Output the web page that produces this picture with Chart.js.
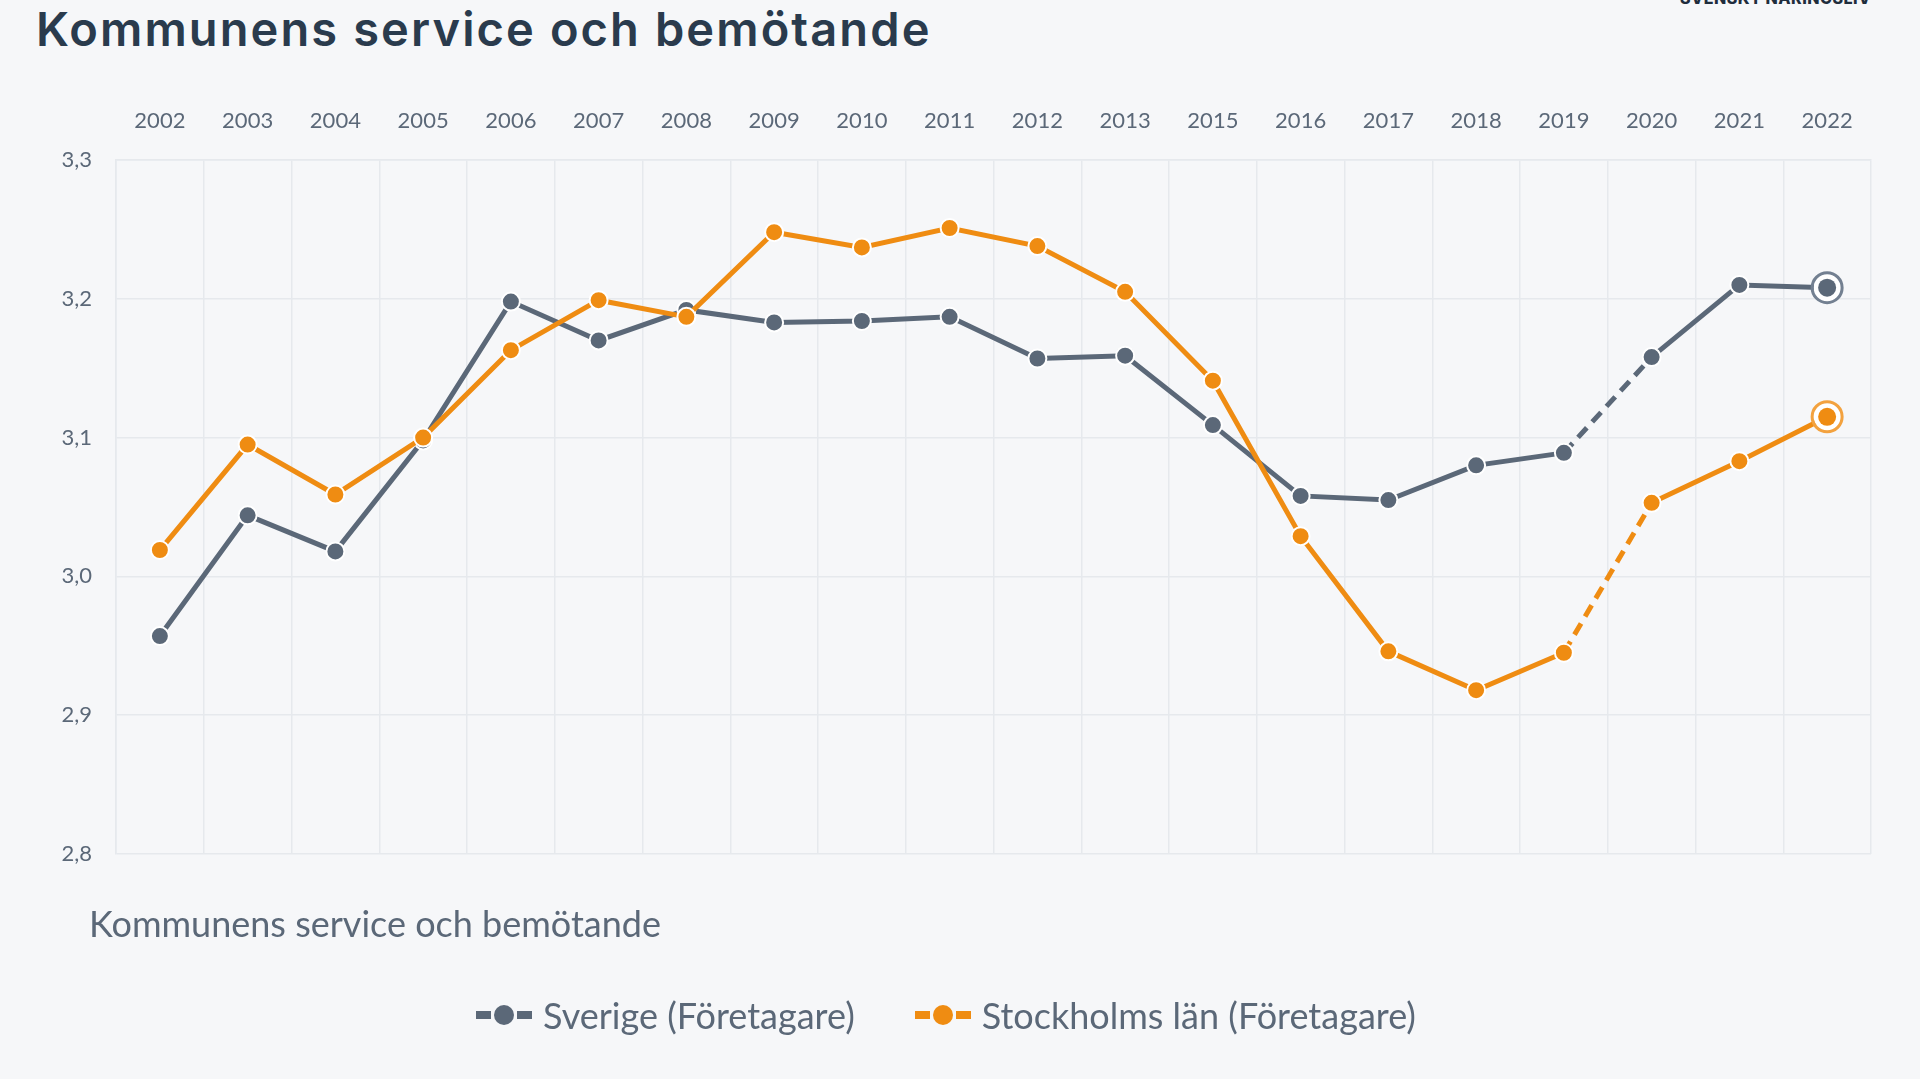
<!DOCTYPE html>
<html lang="sv">
<head>
<meta charset="utf-8">
<title>Kommunens service och bemötande</title>
<script src="https://cdn.jsdelivr.net/npm/chart.js@4.4.1/dist/chart.umd.min.js"></script>
<style>
  html, body { margin: 0; padding: 0; width: 1920px; height: 1079px; overflow: hidden; background: #f6f7f9; }
  #avsandare { position: absolute; right: 49px; top: -12px; font: 800 16px Inter, sans-serif; letter-spacing: 0.5px; color: #1f2d3d; }
  #rubrik { position: absolute; left: 36px; top: 0px; margin: 0; font: 600 47px Inter, sans-serif; color: #2a3b4d; letter-spacing: 2.1px; }
  #ram { position: absolute; left: 0; top: 0; width: 1920px; height: 1079px; }
  #undertext { position: absolute; left: 89px; top: 901px; font: 36px Lato, sans-serif; color: #5b6878; }
  #forklaring { position: absolute; left: 0; width: 1892px; top: 993px; display: flex; justify-content: center; gap: 60px; font: 36px Lato, sans-serif; color: #5b6878; }
  .post { display: flex; align-items: center; gap: 11px; }
  .symbol { display: flex; align-items: center; gap: 3px; }
  .symbol .streck { width: 15px; height: 8px; }
  .symbol .prick { width: 20px; height: 20px; border-radius: 50%; }
</style>
</head>
<body>
<div id="avsandare">SVENSKT NÄRINGSLIV</div>
<h1 id="rubrik">Kommunens service och bemötande</h1>
<div id="ram"><canvas id="diagram"></canvas></div>
<div id="undertext">Kommunens service och bemötande</div>
<div id="forklaring"></div>
<script>
// År (2014 saknas i undersökningen)
const ar = ['2002', '2003', '2004', '2005', '2006', '2007', '2008', '2009', '2010', '2011',
            '2012', '2013', '2015', '2016', '2017', '2018', '2019', '2020', '2021', '2022'];

// Betyg, Sverige (Företagare)
const sverige = [2.957, 3.044, 3.018, 3.098, 3.198, 3.170, 3.192, 3.183, 3.184, 3.187,
                 3.157, 3.159, 3.109, 3.058, 3.055, 3.080, 3.089, 3.158, 3.210, 3.208];

// Betyg, Stockholms län (Företagare)
const stockholm = [3.019, 3.095, 3.059, 3.100, 3.163, 3.199, 3.187, 3.248, 3.237, 3.251,
                   3.238, 3.205, 3.141, 3.029, 2.946, 2.918, 2.945, 3.053, 3.083, 3.115];

// Skala
const yMin = 2.8;
const yMax = 3.3;
const ySteg = 0.1;

// Sträckan som ritas streckad (från 2019 till 2020)
const streckadFran = '2019';

const gra = '#5b6878';
const orange = '#ef8c12';

const streckIndex = ar.indexOf(streckadFran);

// Ring runt senaste värdet
const sistaRing = {
    id: 'sistaRing',
    afterDatasetsDraw(chart) {
        const ctx = chart.ctx;
        chart.data.datasets.forEach((ds, i) => {
            const meta = chart.getDatasetMeta(i);
            const p = meta.data[meta.data.length - 1];
            if (!p) return;
            ctx.save();
            ctx.beginPath();
            ctx.arc(p.x, p.y, 13.5, 0, Math.PI * 2);
            ctx.fillStyle = '#ffffff';
            ctx.fill();
            ctx.beginPath();
            ctx.arc(p.x, p.y, 15, 0, Math.PI * 2);
            ctx.lineWidth = 3;
            ctx.strokeStyle = ds.ringfarg;
            ctx.stroke();
            ctx.beginPath();
            ctx.arc(p.x, p.y, 9, 0, Math.PI * 2);
            ctx.fillStyle = ds.borderColor;
            ctx.fill();
            ctx.restore();
        });
    }
};

function serie(label, data, farg, ringfarg, ordning) {
    return {
        label: label,
        data: data,
        borderColor: farg,
        backgroundColor: farg,
        ringfarg: ringfarg,
        borderWidth: 5,
        pointRadius: 9,
        pointBorderWidth: 2,
        pointBorderColor: '#ffffff',
        pointBackgroundColor: farg,
        tension: 0,
        order: ordning,
        segment: {
            borderDash: ctx => ctx.p0DataIndex === streckIndex ? [13, 8] : undefined
        }
    };
}

const rutnat = '#e6e9ed';

const diagram = new Chart(document.getElementById('diagram').getContext('2d'), {
    type: 'line',
    data: {
        labels: ar,
        datasets: [
            serie('Sverige (Företagare)', sverige, gra, '#738091', 1),
            serie('Stockholms län (Företagare)', stockholm, orange, '#f3a23f', 0)
        ]
    },
    options: {
        responsive: true,
        maintainAspectRatio: false,
        animation: false,
        events: [],
        layout: { padding: { left: 0, top: 0, right: 49, bottom: 225 } },
        plugins: {
            legend: { display: false },
            tooltip: { enabled: false }
        },
        scales: {
            x: {
                position: 'top',
                offset: true,
                grid: { offset: true, color: rutnat, lineWidth: 1.5, drawTicks: false },
                border: { color: rutnat, width: 1.5 },
                ticks: { color: gra, padding: 26, font: { family: 'Lato', size: 22 }, maxRotation: 0, autoSkip: false },
                afterFit: s => { s.height = 160; }
            },
            y: {
                min: yMin,
                max: yMax,
                grid: { color: rutnat, lineWidth: 1.5, drawTicks: false },
                border: { color: rutnat, width: 1.5 },
                ticks: {
                    stepSize: ySteg,
                    color: gra,
                    padding: 24,
                    font: { family: 'Lato', size: 22 },
                    callback: v => v.toFixed(1).replace('.', ',')
                },
                afterFit: s => { s.width = 116; }
            }
        }
    },
    plugins: [sistaRing]
});

// Förklaring byggd från dataseten
const forklaring = document.getElementById('forklaring');
diagram.data.datasets.forEach(ds => {
    const post = document.createElement('div');
    post.className = 'post';
    const symbol = document.createElement('span');
    symbol.className = 'symbol';
    ['streck', 'prick', 'streck'].forEach(k => {
        const del = document.createElement('span');
        del.className = k;
        del.style.background = ds.borderColor;
        symbol.appendChild(del);
    });
    const text = document.createElement('span');
    text.textContent = ds.label;
    post.appendChild(symbol);
    post.appendChild(text);
    forklaring.appendChild(post);
});
</script>
</body>
</html>
